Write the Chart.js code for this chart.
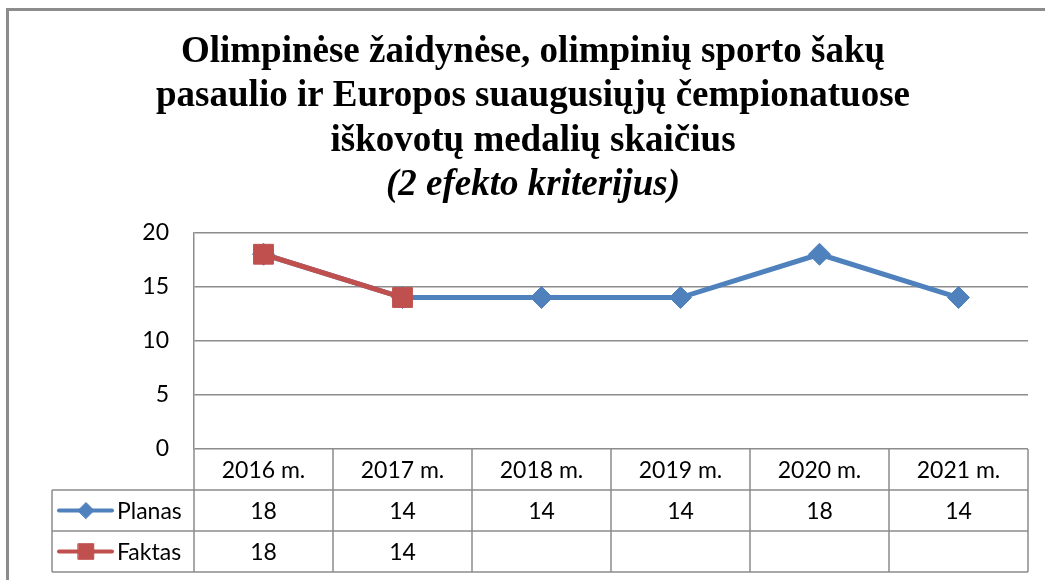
<!DOCTYPE html>
<html>
<head>
<meta charset="utf-8">
<script src="https://cdn.jsdelivr.net/npm/chart.js@4/dist/chart.umd.min.js"></script>
<style>
    html, body { margin: 0; padding: 0; background: #fff; }
    #frame {
        position: absolute; left: 6px; top: 8px; width: 1045px; height: 580px;
        border-left: 3px solid #8c8c8c; border-top: 3px solid #8c8c8c;
    }
    canvas { position: absolute; left: 0; top: 0; }
</style>
</head>
<body>
<div id="frame"></div>
<canvas id="chart" width="1045" height="580"></canvas>
<script>
const years = ["2016 m.", "2017 m.", "2018 m.", "2019 m.", "2020 m.", "2021 m."];
const planas = [18, 14, 14, 14, 18, 14];
const faktas = [18, 14, null, null, null, null];
const yTicks = [0, 5, 10, 15, 20];

const BLUE = "#4f81bd";
const RED = "#c0504d";
const GRID = "#8c8c8c";
const FONT = "Lato, 'Open Sans', sans-serif";

// data table under the plot, drawn from the x scale
const dataTable = {
    id: "dataTable",
    afterDraw(chart) {
        const ctx = chart.ctx;
        const x = chart.scales.x;
        const area = chart.chartArea;
        const n = years.length;
        const cw = (area.right - area.left) / n;
        const rowH = 41;
        const top = area.bottom;
        const legendLeft = 52;
        const rows = chart.data.datasets;

        ctx.save();
        ctx.strokeStyle = GRID;
        ctx.lineWidth = 1.5;
        ctx.beginPath();
        for (let r = 1; r <= rows.length + 1; r++) {
            const y = top + r * rowH;
            ctx.moveTo(legendLeft, y);
            ctx.lineTo(area.right, y);
        }
        for (let i = 0; i <= n; i++) {
            const vx = area.left + i * cw;
            ctx.moveTo(vx, top);
            ctx.lineTo(vx, top + (rows.length + 1) * rowH);
        }
        ctx.moveTo(legendLeft, top + rowH);
        ctx.lineTo(legendLeft, top + (rows.length + 1) * rowH);
        ctx.stroke();

        ctx.fillStyle = "#000";
        ctx.font = "23px " + FONT;
        ctx.textAlign = "center";
        ctx.textBaseline = "middle";
        years.forEach((lab, i) => {
            ctx.fillText(lab, x.getPixelForValue(i), top + rowH / 2 + 1);
        });
        rows.forEach((ds, r) => {
            const cy = top + (r + 1) * rowH + rowH / 2;
            ds.data.forEach((v, i) => {
                if (v !== null) ctx.fillText(String(v), x.getPixelForValue(i), cy + 1);
            });
            // legend key
            ctx.strokeStyle = ds.borderColor;
            ctx.lineWidth = 4;
            ctx.lineCap = "round";
            ctx.beginPath();
            ctx.moveTo(59, cy);
            ctx.lineTo(112, cy);
            ctx.stroke();
            ctx.fillStyle = ds.borderColor;
            ctx.lineWidth = 1;
            Chart.helpers.drawPoint(ctx, {
                pointStyle: ds.pointStyle,
                radius: ds.pointStyle === "rect" ? 11 : 8,
                rotation: 0,
                borderWidth: 1,
            }, 86, cy);
            ctx.fillStyle = "#000";
            ctx.textAlign = "left";
            ctx.fillText(ds.label, 117, cy + 1);
            ctx.textAlign = "center";
        });
        ctx.restore();
    },
};

new Chart(document.getElementById("chart"), {
    type: "line",
    data: {
        labels: years,
        datasets: [
            {
                label: "Planas",
                data: planas,
                borderColor: BLUE,
                backgroundColor: BLUE,
                borderWidth: 5,
                pointStyle: "rectRot",
                pointRadius: 11,
                pointBorderWidth: 1,
                order: 2,
            },
            {
                label: "Faktas",
                data: faktas,
                borderColor: RED,
                backgroundColor: RED,
                borderWidth: 5,
                pointStyle: "rect",
                pointRadius: 14,
                pointBorderWidth: 1,
                order: 1,
            },
        ],
    },
    options: {
        responsive: false,
        animation: false,
        layout: { padding: { left: 38, top: 0, right: 17, bottom: 131 } },
        plugins: {
            legend: { display: false },
            tooltip: { enabled: false },
            title: {
                display: true,
                text: [
                    "Olimpinėse žaidynėse, olimpinių sporto šakų",
                    "pasaulio ir Europos suaugusiųjų čempionatuose",
                    "iškovotų medalių skaičius",
                ],
                color: "#000",
                font: { family: "'Liberation Serif', serif", size: 37, weight: "bold", lineHeight: 1.2 },
                padding: { top: 30, bottom: 0 },
            },
            subtitle: {
                display: true,
                text: "(2 efekto kriterijus)",
                color: "#000",
                font: { family: "'Liberation Serif', serif", size: 37, weight: "bold", style: "italic", lineHeight: 1.2 },
                padding: { top: 0, bottom: 25 },
            },
        },
        scales: {
            x: {
                display: false,
                offset: true,
            },
            y: {
                min: 0,
                max: 20,
                afterFit(scale) { scale.width = 156; },
                afterBuildTicks(scale) { scale.ticks = yTicks.map(v => ({ value: v })); },
                ticks: {
                    color: "#000",
                    padding: 25,
                    font: { family: FONT, size: 23 },
                },
                grid: { color: GRID, lineWidth: 1.5, drawTicks: false },
                border: { display: true, color: GRID, width: 1.5 },
            },
        },
    },
    plugins: [dataTable],
});
</script>
</body>
</html>
